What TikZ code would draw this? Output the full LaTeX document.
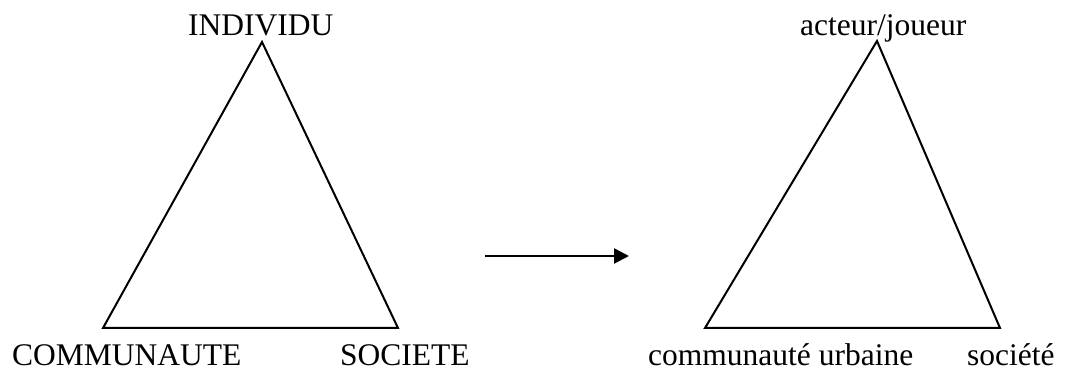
\documentclass[tikz,border=0pt]{standalone}
\usepackage{fontspec}
\setmainfont{Liberation Serif}
\usetikzlibrary{arrows.meta}
\begin{document}
\begin{tikzpicture}[x=1pt,y=1pt,
  lbl/.style={inner sep=0pt,anchor=base west,font=\fontsize{31.5}{36}\selectfont},
  tri/.style={line width=2pt,line join=miter},
  link/.style={line width=2.2pt,-{Triangle[length=15pt,width=15pt]}}]
\useasboundingbox (0,0) rectangle (1092,371);
\fill[white] (0,0) rectangle (1092,371);
% left triangle
\coordinate (la) at (262,329);
\coordinate (lb) at (103,43);
\coordinate (lc) at (398,43);
\draw[tri] (la) -- (lb) -- (lc) -- cycle;
\node[lbl] (ind) at (188,335) {INDIVIDU};
\node[lbl] (com) at (12,5.5) {COMMUNAUTE};
\node[lbl] (soc) at (340,5.5) {SOCIETE};
% arrow between the two triangles
\coordinate (as) at (485,115);
\coordinate (ae) at (629,115);
\draw[link] (as) -- (ae);
% right triangle
\coordinate (ra) at (877,330);
\coordinate (rb) at (705,43);
\coordinate (rc) at (1000,43);
\draw[tri] (ra) -- (rb) -- (rc) -- cycle;
\node[lbl] (act) at (800,335) {acteur/joueur};
\node[lbl] (cu) at (648,5.5) {communauté urbaine};
\node[lbl] (so) at (967,5.5) {société};
\end{tikzpicture}
\end{document}
